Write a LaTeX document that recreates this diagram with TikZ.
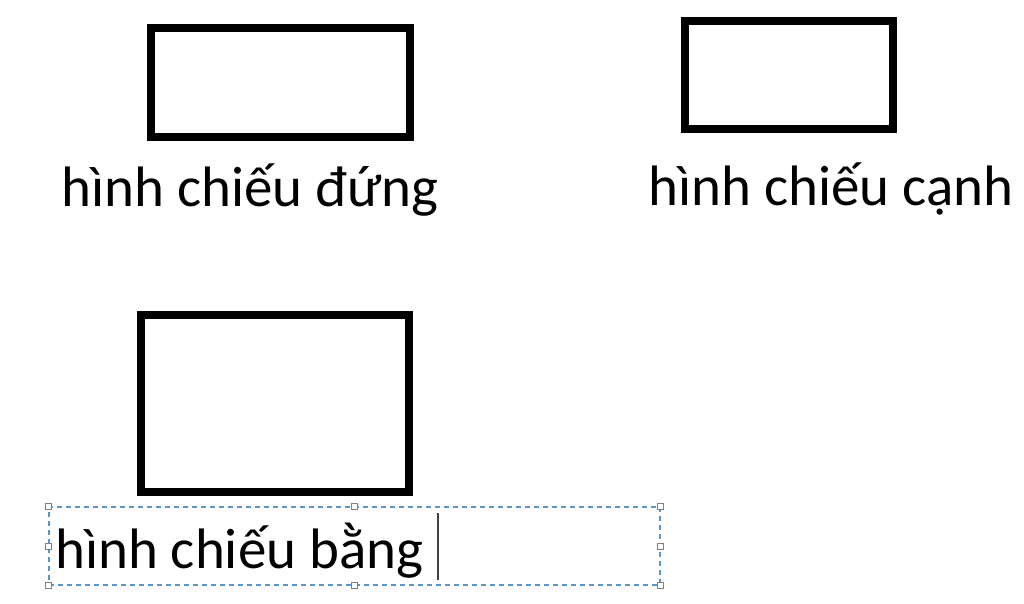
\documentclass[tikz,border=0pt]{standalone}
\usepackage{fontspec}
\setmainfont{Carlito}
\usetikzlibrary{positioning,calc}
\definecolor{selblue}{RGB}{90,150,200}
\tikzset{%
  view box/.style={
    draw,
    line width=7.5pt,
    inner sep=0pt
  },
  view label/.style={
    font=\fontsize{57}{68}\selectfont,
    inner sep=0pt,
    anchor=base
  },
  sel frame/.style={
    draw=selblue,
    line width=1.3pt,
    dash pattern=on 5pt off 4pt,
    inner sep=0pt,
    minimum width=611pt,
    minimum height=78pt
  },
  sel handle/.style={
    draw=gray,
    fill=white,
    line width=0.7pt,
    inner sep=0pt,
    minimum size=6pt
  },
}

\begin{document}
\begin{tikzpicture}[x=1pt, y=-1pt]
        \useasboundingbox (0,0) rectangle (1024,604);
        % the three views
        \node [view box, minimum width=259pt, minimum height=109pt] (dung) at (280.5,82.5) {};
        \node [view box, minimum width=208pt, minimum height=108pt] (canh) at (789,75) {};
        \node [view box, minimum width=268pt, minimum height=177pt] (bang) at (275,403.5) {};

        \node [view label] (dung-label) at (250,206) {hình chiếu đứng};
        \node [view label] (canh-label) at (831,205) {hình chiếu cạnh};
        \node [view label, anchor=base west] (bang-label) at (55,568) {hình chiếu bằng};

        % selected text box
        \node [sel frame] (selbox) at (354.5,546) {};
        \foreach \a in {north west,north,north east,west,east,south west,south,south east}
            \node [sel handle] at (selbox.\a) {};
        \coordinate (cursor-top) at (438,513);
        \coordinate (cursor-bot) at (438,580);
        \draw [line width=1.5pt, black!75] (cursor-top) -- (cursor-bot);
\end{tikzpicture}
\end{document}
